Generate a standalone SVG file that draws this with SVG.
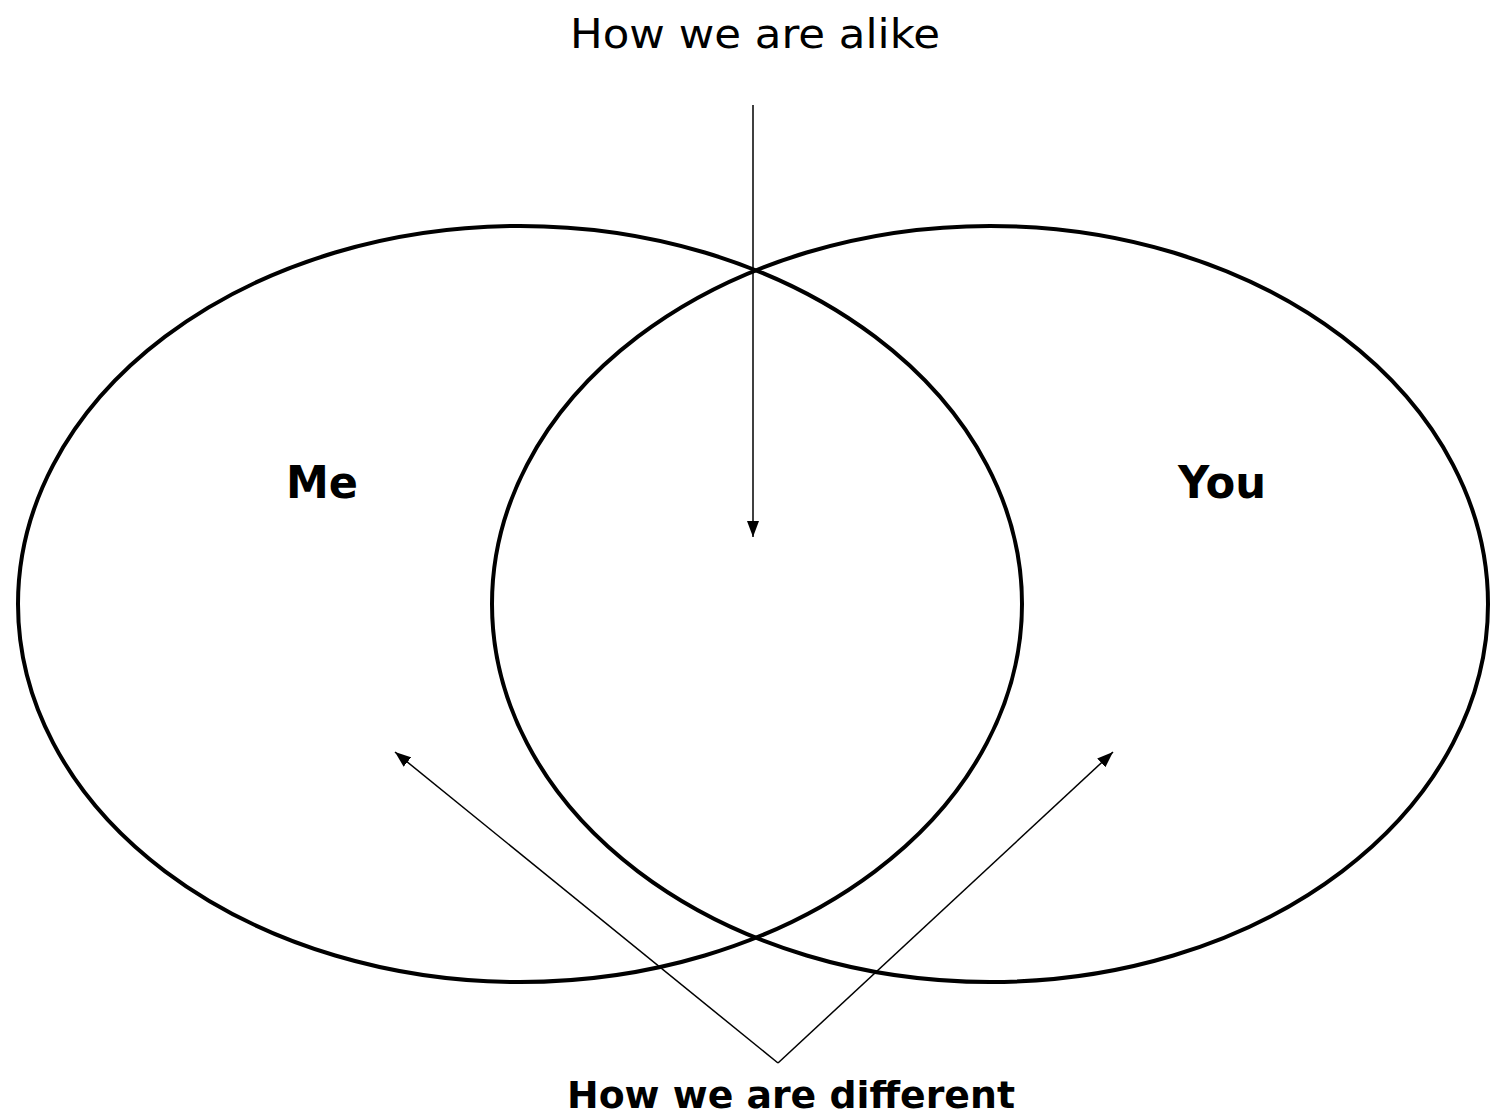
<svg xmlns="http://www.w3.org/2000/svg" width="1491" height="1117" viewBox="0 0 1491 1117">
<style>
.circle{fill:none;stroke:#000;stroke-width:4}
.conn{stroke:#000;stroke-width:1.5;fill:none}
.t{font-family:"DejaVu Sans","Liberation Sans",sans-serif;fill:#000}
.b{font-weight:bold}
</style>
<defs>
<marker id="ah" viewBox="0 0 10 10" refX="10" refY="5" markerWidth="10" markerHeight="10" markerUnits="userSpaceOnUse" orient="auto">
<path d="M0,0 L10,5 L0,10 z" fill="#000"/>
</marker>
<marker id="ah2" viewBox="0 0 16 12" refX="16" refY="6" markerWidth="16" markerHeight="12" markerUnits="userSpaceOnUse" orient="auto">
<path d="M0,0 L16,6 L0,12 z" fill="#000"/>
</marker>
</defs>
<rect width="1491" height="1117" fill="#fff"/>
<g id="me">
<ellipse class="circle" cx="520" cy="604" rx="502" ry="378"/>
<text class="t b" x="322" y="498" font-size="44" text-anchor="middle" textLength="72" lengthAdjust="spacingAndGlyphs">Me</text>
</g>
<g id="you">
<ellipse class="circle" cx="990" cy="604" rx="498" ry="378"/>
<text class="t b" x="1222" y="498" font-size="44" text-anchor="middle" textLength="88" lengthAdjust="spacingAndGlyphs">You</text>
</g>
<g id="alike">
<text class="t" x="755" y="48" font-size="40" text-anchor="middle" textLength="370" lengthAdjust="spacingAndGlyphs">How we are alike</text>
</g>
<g id="different">
<text class="t b" x="791" y="1108" font-size="38" text-anchor="middle" textLength="448" lengthAdjust="spacingAndGlyphs">How we are different</text>
</g>
<g id="connectors">
<line class="conn" x1="753" y1="105" x2="753" y2="537" marker-end="url(#ah2)"/>
<line class="conn" x1="778" y1="1063" x2="395" y2="752" marker-end="url(#ah2)"/>
<line class="conn" x1="778" y1="1063" x2="1113" y2="752" marker-end="url(#ah2)"/>
</g>
</svg>
